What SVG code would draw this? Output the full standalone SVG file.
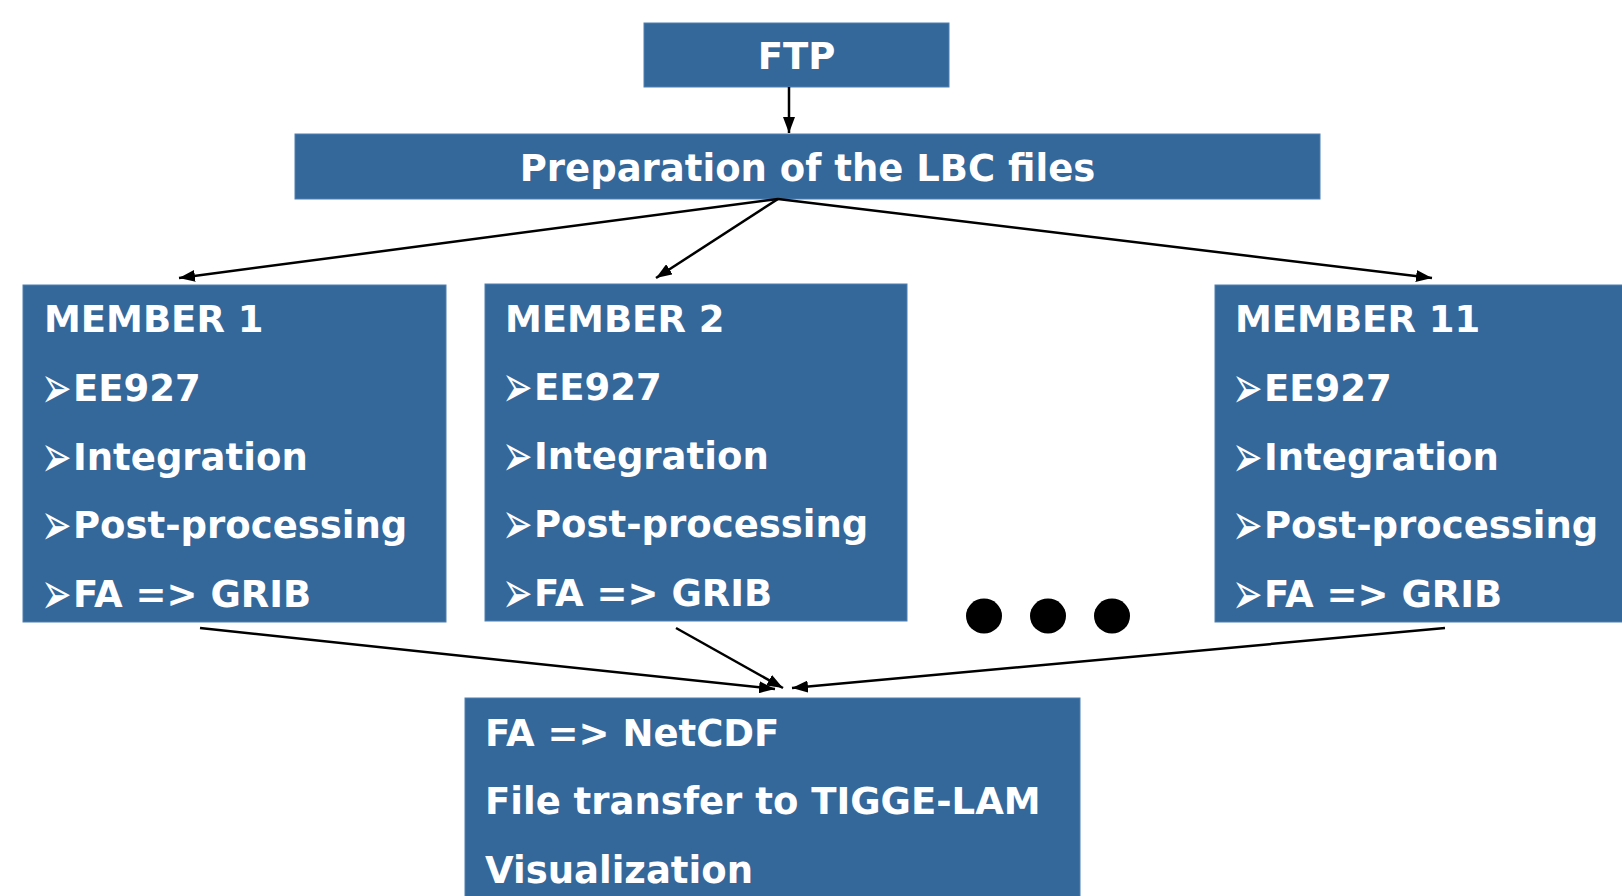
<svg xmlns="http://www.w3.org/2000/svg" width="1622" height="896" viewBox="0 0 1622 896">
<style>
.box{fill:#34679a;stroke:#4f80b4;stroke-width:1}
.t{font-family:"DejaVu Sans",Verdana,sans-serif;font-weight:bold;font-size:37px;fill:#ffffff}
.c{text-anchor:middle}
.b{font-family:"DejaVu Sans",sans-serif;font-size:30px;fill:#ffffff}
.ln{stroke:#000;stroke-width:2.5;fill:none;marker-end:url(#ah)}
</style>
<defs>
<marker id="ah" markerUnits="userSpaceOnUse" viewBox="0 0 16 12" markerWidth="16" markerHeight="12" refX="16" refY="6" orient="auto">
<path d="M0,0 L16,6 L0,12 z" fill="#000"/>
</marker>
</defs>
<rect width="1622" height="896" fill="#fff"/>
<g id="ftp">
<rect class="box" x="644" y="23" width="305" height="64"/>
<text class="t c" x="796.5" y="69">FTP</text>
</g>
<g id="prep">
<rect class="box" x="295" y="134" width="1025" height="65"/>
<text class="t c" x="807.5" y="181">Preparation of the LBC files</text>
</g>
<g id="member1">
<rect class="box" x="23" y="285" width="423" height="337"/>
<text class="t" x="44" y="332">MEMBER 1</text>
<text class="b" transform="translate(41,388) scale(1.22,2.0)" y="10">➢</text><text class="t" x="73" y="401">EE927</text>
<text class="b" transform="translate(41,457) scale(1.22,2.0)" y="10">➢</text><text class="t" x="73" y="470">Integration</text>
<text class="b" transform="translate(41,525) scale(1.22,2.0)" y="10">➢</text><text class="t" x="73" y="538">Post-processing</text>
<text class="b" transform="translate(41,594) scale(1.22,2.0)" y="10">➢</text><text class="t" x="73" y="607">FA =&gt; GRIB</text>
</g>
<g id="member2">
<rect class="box" x="485" y="284" width="422" height="337"/>
<text class="t" x="505" y="332">MEMBER 2</text>
<text class="b" transform="translate(502,387) scale(1.22,2.0)" y="10">➢</text><text class="t" x="534" y="400">EE927</text>
<text class="b" transform="translate(502,456) scale(1.22,2.0)" y="10">➢</text><text class="t" x="534" y="469">Integration</text>
<text class="b" transform="translate(502,524) scale(1.22,2.0)" y="10">➢</text><text class="t" x="534" y="537">Post-processing</text>
<text class="b" transform="translate(502,593) scale(1.22,2.0)" y="10">➢</text><text class="t" x="534" y="606">FA =&gt; GRIB</text>
</g>
<g id="member11">
<rect class="box" x="1215" y="285" width="420" height="337"/>
<text class="t" x="1235" y="332">MEMBER 11</text>
<text class="b" transform="translate(1232,388) scale(1.22,2.0)" y="10">➢</text><text class="t" x="1264" y="401">EE927</text>
<text class="b" transform="translate(1232,457) scale(1.22,2.0)" y="10">➢</text><text class="t" x="1264" y="470">Integration</text>
<text class="b" transform="translate(1232,525) scale(1.22,2.0)" y="10">➢</text><text class="t" x="1264" y="538">Post-processing</text>
<text class="b" transform="translate(1232,594) scale(1.22,2.0)" y="10">➢</text><text class="t" x="1264" y="607">FA =&gt; GRIB</text>
</g>
<g id="dots">
<ellipse cx="984" cy="616" rx="18" ry="17.5" fill="#000"/>
<ellipse cx="1048" cy="616" rx="18" ry="17.5" fill="#000"/>
<ellipse cx="1112" cy="616" rx="18" ry="17.5" fill="#000"/>
</g>
<g id="output">
<rect class="box" x="465" y="698" width="615" height="210"/>
<text class="t" x="485" y="746">FA =&gt; NetCDF</text>
<text class="t" x="485" y="814">File transfer to TIGGE-LAM</text>
<text class="t" x="485" y="883">Visualization</text>
</g>
<g id="connectors">
<line class="ln" x1="789" y1="87" x2="789" y2="133"/>
<line class="ln" x1="778" y1="199" x2="179" y2="278"/>
<line class="ln" x1="778" y1="199" x2="656" y2="278"/>
<line class="ln" x1="778" y1="199" x2="1432" y2="278"/>
<line class="ln" x1="200" y1="628" x2="775" y2="689"/>
<line class="ln" x1="676" y1="628" x2="783" y2="688"/>
<line class="ln" x1="1445" y1="628" x2="792" y2="688"/>
</g>
</svg>
